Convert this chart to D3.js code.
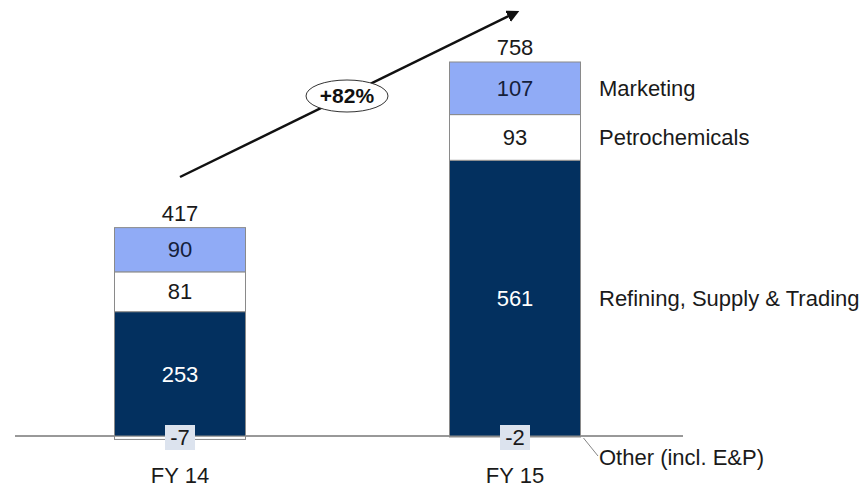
<!DOCTYPE html>
<html>
<head>
<meta charset="utf-8">
<script src="https://cdn.jsdelivr.net/npm/d3@7"></script>
<style>
  body { margin: 0; background: #fff; }
  svg { font-family: "Liberation Sans", Arial, sans-serif; }
</style>
</head>
<body>
<div id="chart"></div>
<script>
// Data
const years = ["FY 14", "FY 15"];
const segments = ["Other (incl. E&P)", "Refining, Supply & Trading", "Petrochemicals", "Marketing"];
const other = [-7, -2];
const refining = [253, 561];
const petrochem = [81, 93];
const marketing = [90, 107];
const totals = [417, 758];
const growthLabel = "+82%";

const COLORS = {
  "Other (incl. E&P)": "#ffffff",
  "Refining, Supply & Trading": "#03305f",
  "Petrochemicals": "#ffffff",
  "Marketing": "#90abf6"
};
const TEXT_COLORS = {
  "Other (incl. E&P)": "#1a1a1a",
  "Refining, Supply & Trading": "#ffffff",
  "Petrochemicals": "#1a1a1a",
  "Marketing": "#15203a"
};

const width = 863, height = 488;
const barWidth = 131;
const FS = "22px";

const svg = d3.select("#chart")
  .append("svg")
  .attr("width", width)
  .attr("height", height);

// Scales
const x = d3.scalePoint()
  .domain(years)
  .range([180, 515]);

const y = d3.scaleLinear()
  .domain([0, 761])
  .range([436, 62]);

// Build stacked rows
const series = [other, refining, petrochem, marketing];
const rows = years.map((yr, i) => {
  let pos = 0;
  const segs = segments.map((name, k) => {
    const v = series[k][i];
    let y0, y1;
    if (v < 0) { y0 = v; y1 = 0; }
    else { y0 = pos; y1 = pos + v; pos += v; }
    return { year: yr, name, value: v, y0, y1 };
  });
  return { year: yr, segs, top: pos, total: totals[i] };
});

// Baseline
svg.append("line")
  .attr("x1", 15).attr("x2", 683)
  .attr("y1", y(0)).attr("y2", y(0))
  .attr("stroke", "#333")
  .attr("stroke-width", 1);

// Bars
rows.forEach(row => {
  const g = svg.append("g");
  g.selectAll("rect")
    .data(row.segs)
    .enter()
    .append("rect")
    .attr("x", x(row.year) - barWidth / 2)
    .attr("width", barWidth)
    .attr("y", d => y(d.y1))
    .attr("height", d => y(d.y0) - y(d.y1))
    .attr("fill", d => COLORS[d.name])
    .attr("stroke", "#8a8a8a")
    .attr("stroke-width", 1);

  // value labels
  row.segs.forEach(d => {
    if (d.value < 0) {
      const cy = y(0);
      g.append("rect")
        .attr("x", x(row.year) - 15)
        .attr("y", cy - 11)
        .attr("width", 30)
        .attr("height", 25)
        .attr("fill", "#dce3ee");
      g.append("text")
        .attr("x", x(row.year))
        .attr("y", cy + 1.5)
        .attr("dy", "0.35em")
        .attr("text-anchor", "middle")
        .attr("font-size", FS)
        .attr("fill", "#1a1a1a")
        .text(d.value);
    } else {
      g.append("text")
        .attr("x", x(row.year))
        .attr("y", (y(d.y0) + y(d.y1)) / 2)
        .attr("dy", "0.35em")
        .attr("text-anchor", "middle")
        .attr("font-size", FS)
        .attr("fill", TEXT_COLORS[d.name])
        .text(d.value);
    }
  });

  // total
  g.append("text")
    .attr("x", x(row.year))
    .attr("y", y(row.top) - 7)
    .attr("text-anchor", "middle")
    .attr("font-size", FS)
    .attr("fill", "#1a1a1a")
    .text(row.total);

  // category
  g.append("text")
    .attr("x", x(row.year))
    .attr("y", 483)
    .attr("text-anchor", "middle")
    .attr("font-size", FS)
    .attr("fill", "#1a1a1a")
    .text(row.year);
});

// Segment labels on the right (from FY 15 bar)
const last = rows[rows.length - 1];
const labelX = 599;
last.segs.forEach(d => {
  if (d.value < 0) {
    svg.append("line")
      .attr("x1", x(last.year) + barWidth / 2 + 3)
      .attr("y1", y(0) + 2)
      .attr("x2", labelX - 1)
      .attr("y2", 456)
      .attr("stroke", "#666")
      .attr("stroke-width", 0.8);
    svg.append("text")
      .attr("x", labelX)
      .attr("y", 457)
      .attr("dy", "0.35em")
      .attr("font-size", FS)
      .attr("fill", "#1a1a1a")
      .text(d.name);
  } else {
    svg.append("text")
      .attr("x", labelX)
      .attr("y", (y(d.y0) + y(d.y1)) / 2)
      .attr("dy", "0.35em")
      .attr("font-size", FS)
      .attr("fill", "#1a1a1a")
      .text(d.name);
  }
});

// Growth arrow
svg.append("defs").append("marker")
  .attr("id", "arrow")
  .attr("viewBox", "0 0 10 10")
  .attr("refX", 8).attr("refY", 5)
  .attr("markerWidth", 5).attr("markerHeight", 5)
  .attr("orient", "auto")
  .append("path")
  .attr("d", "M0,0 L10,5 L0,10 z")
  .attr("fill", "#111");

const ax1 = 180, ay1 = 177, ax2 = 517, ay2 = 12;
svg.append("line")
  .attr("x1", ax1).attr("y1", ay1)
  .attr("x2", ax2).attr("y2", ay2)
  .attr("stroke", "#111")
  .attr("stroke-width", 2.5)
  .attr("marker-end", "url(#arrow)");

svg.append("ellipse")
  .attr("cx", 347).attr("cy", 96)
  .attr("rx", 41).attr("ry", 16)
  .attr("fill", "#fff")
  .attr("stroke", "#333")
  .attr("stroke-width", 1);

svg.append("text")
  .attr("x", 347).attr("y", 96)
  .attr("dy", "0.35em")
  .attr("text-anchor", "middle")
  .attr("font-size", "21px")
  .attr("font-weight", "bold")
  .attr("fill", "#111")
  .text(growthLabel);
</script>
</body>
</html>
